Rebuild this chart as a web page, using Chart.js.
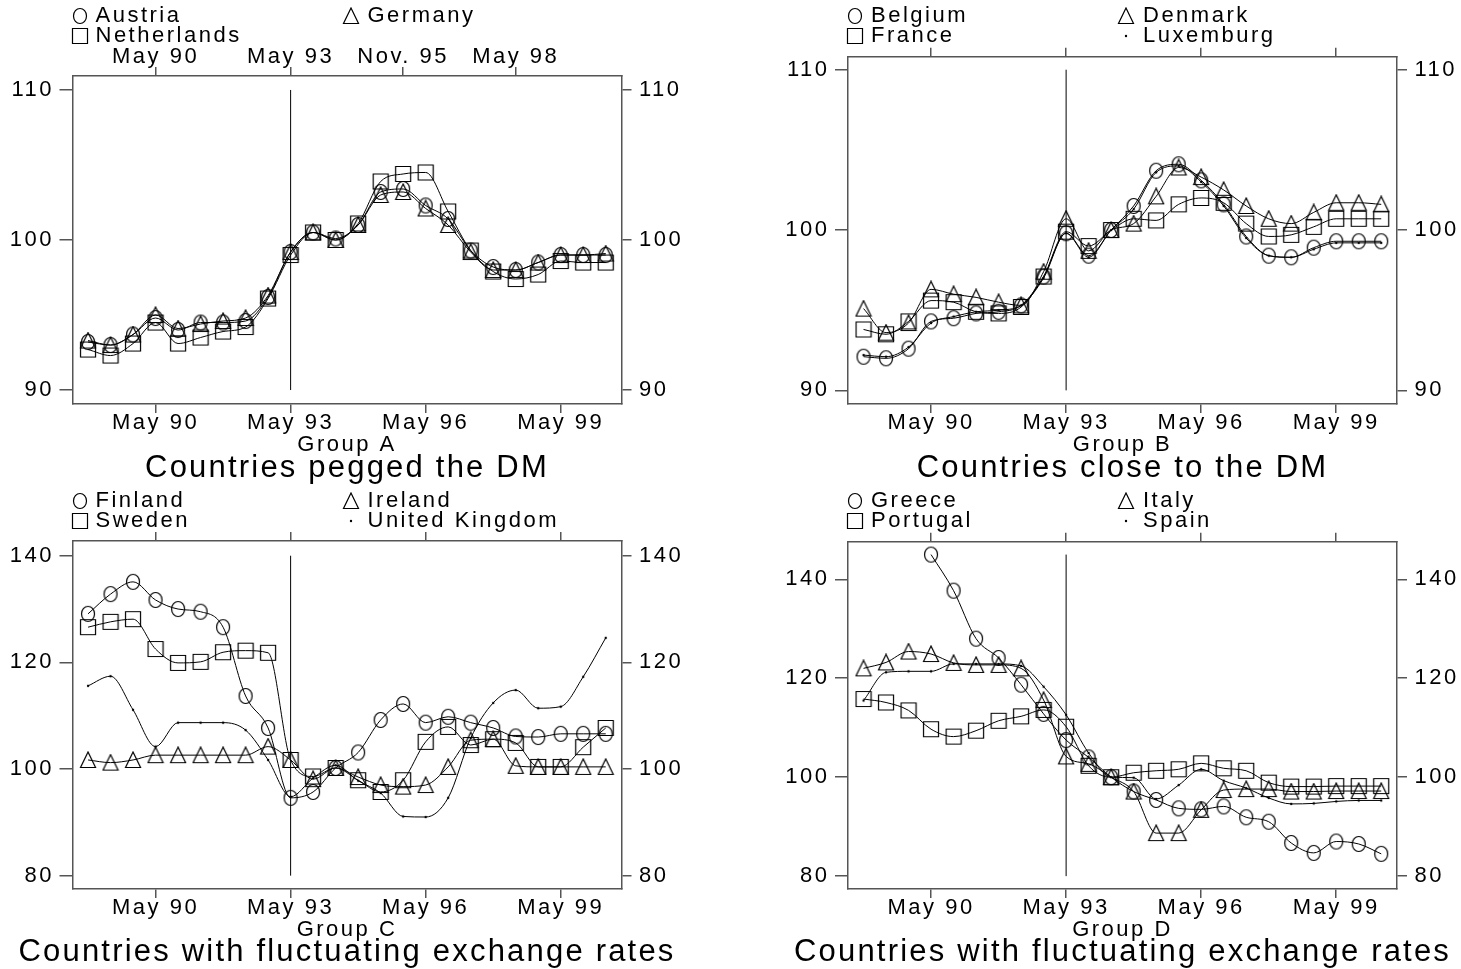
<!DOCTYPE html>
<html>
<head>
<meta charset="utf-8">
<script src="https://cdn.jsdelivr.net/npm/chart.js@4.4.1/dist/chart.umd.min.js"></script>
<style>
  html, body { margin: 0; padding: 0; background: #fff; }
  #wrap { position: relative; width: 1461px; height: 969px; }
  canvas { position: absolute; }
</style>
</head>
<body>
<div id="wrap">
  <canvas id="pA" width="730" height="485" style="left:0;top:0"></canvas>
  <canvas id="pB" width="731" height="485" style="left:730px;top:0"></canvas>
  <canvas id="pC" width="730" height="484" style="left:0;top:485px"></canvas>
  <canvas id="pD" width="731" height="484" style="left:730px;top:485px"></canvas>
</div>
<script>
// ---- periods (half-yearly, Nov 88 .. May 00) and axis labels ----
const periods = ['Nov 88','May 89','Nov 89','May 90','Nov 90','May 91','Nov 91','May 92','Nov 92',
  'May 93','Nov 93','May 94','Nov 94','May 95','Nov 95','May 96','Nov 96','May 97','Nov 97','May 98',
  'Nov 98','May 99','Nov 99','May 00'];
const bottomTickPeriods = ['May 90','May 93','May 96','May 99'];
const bottomTickLabels = ['May 90','May 93','May 96','May 99'];
const topTickPeriodsA = ['May 90','May 93','Nov 95','May 98'];
const topTickLabelsA = ['May 90','May 93','Nov. 95','May 98'];
const refPeriod = 'May 93';

// ---- Group A ----
const austria     = [93.2, 93.0, 93.7, 94.8, 94.0, 94.5, 94.5, 94.6, 96.2, 99.2, 100.5, 100.1, 101.0, 103.2, 103.4, 102.3, 101.4, 99.3, 98.2, 98.0, 98.5, 99.0, 99.0, 99.0];
const germany     = [93.3, 93.0, 93.7, 95.0, 94.1, 94.4, 94.6, 94.8, 96.3, 99.2, 100.5, 100.0, 101.0, 103.0, 103.2, 102.1, 101.0, 99.2, 98.0, 98.0, 98.5, 99.0, 99.0, 99.1];
const netherlands = [92.7, 92.3, 93.1, 94.5, 93.1, 93.5, 93.9, 94.2, 96.1, 99.0, 100.5, 100.0, 101.1, 103.9, 104.4, 104.5, 101.9, 99.3, 97.9, 97.4, 97.7, 98.6, 98.5, 98.5];
const yTicksA = [90, 100, 110];
const refYA = [90, 110];

// ---- Group B ----
const belgium   = [92.1, 92.0, 92.6, 94.3, 94.5, 94.8, 94.9, 95.3, 97.1, 99.8, 98.4, 100.0, 101.5, 103.7, 104.1, 103.1, 101.6, 99.6, 98.4, 98.3, 98.9, 99.3, 99.3, 99.3];
const denmark   = [95.1, 93.6, 94.2, 96.3, 96.0, 95.8, 95.5, 95.3, 97.4, 100.7, 98.7, 100.0, 100.4, 102.1, 103.9, 103.3, 102.5, 101.5, 100.7, 100.4, 101.1, 101.7, 101.7, 101.6];
const france    = [93.8, 93.5, 94.3, 95.6, 95.5, 94.9, 94.8, 95.2, 97.1, 99.9, 99.0, 100.0, 100.7, 100.6, 101.6, 102.0, 101.7, 100.4, 99.6, 99.7, 100.2, 100.7, 100.7, 100.7];
const luxemburg = [92.2, 92.1, 92.7, 94.2, 94.6, 94.9, 95.0, 95.3, 97.0, 99.8, 98.3, 100.0, 101.3, 103.6, 104.0, 103.0, 101.5, 99.5, 98.4, 98.3, 98.8, 99.2, 99.2, 99.2];
const yTicksB = [90, 100, 110];
const refYB = [90, 110];

// ---- Group C ----
const finland = [129.1, 132.8, 135.1, 131.7, 130.0, 129.5, 126.6, 113.7, 107.7, 94.6, 95.7, 100.2, 103.1, 109.2, 112.2, 108.7, 109.8, 108.7, 107.7, 106.1, 106.0, 106.6, 106.6, 106.6];
const ireland = [101.7, 101.2, 101.7, 102.6, 102.6, 102.6, 102.6, 102.6, 104.2, 101.7, 98.1, 100.2, 98.5, 97.0, 96.7, 97.0, 100.4, 105.4, 105.6, 100.6, 100.4, 100.4, 100.4, 100.4];
const sweden  = [126.6, 127.6, 128.1, 122.5, 119.9, 120.1, 121.9, 122.2, 121.8, 101.7, 98.6, 100.2, 97.9, 95.7, 97.9, 105.1, 107.9, 104.5, 105.6, 104.9, 100.4, 100.4, 104.1, 107.7];
const uk      = [115.6, 117.4, 111.1, 104.2, 108.7, 108.7, 108.7, 107.3, 101.7, 94.8, 98.3, 100.7, 97.8, 95.5, 91.1, 91.0, 94.6, 105.8, 112.4, 114.8, 111.4, 111.7, 117.3, 124.6];
const yTicksC = [80, 100, 120, 140];
const refYC = [80, 140];

// ---- Group D ----
const greece   = [null, null, null, 145.0, 137.7, 128.0, 124.1, 118.7, 112.8, 107.5, 104.0, 100.0, 97.1, 95.4, 93.7, 93.5, 94.1, 91.9, 91.0, 86.7, 84.7, 87.0, 86.5, 84.5];
const italy    = [122.0, 123.2, 125.4, 124.9, 123.1, 122.7, 122.7, 122.0, 115.6, 104.2, 102.7, 100.0, 97.1, 88.7, 88.7, 93.4, 97.4, 97.6, 97.6, 97.1, 97.1, 97.2, 97.2, 97.2];
const portugal = [115.8, 115.1, 113.5, 109.7, 108.2, 109.4, 111.4, 112.3, 113.6, 110.2, 102.3, 100.0, 100.9, 101.3, 101.6, 102.8, 101.8, 101.3, 98.9, 98.1, 98.1, 98.2, 98.2, 98.2];
const spain    = [115.5, 121.2, 121.4, 121.4, 122.9, 122.9, 122.9, 122.5, 118.3, 112.6, 104.9, 100.0, 99.9, 95.6, 98.4, 101.6, 99.3, 97.8, 95.8, 94.6, 94.7, 95.1, 95.3, 95.3];
const yTicksD = [80, 100, 120, 140];
const refYD = [80, 145];

// ---- look ----
const FONT = '"Liberation Sans", Arial, Helvetica, sans-serif';
const INK = '#000';
const FRAME = '#555';
const SPACING = '2.5px';
const X_MIN = -0.69, X_MAX = 23.7;
const idx = p => periods.indexOf(p);

function markerImage(kind) {
  const c = document.createElement('canvas');
  c.width = 18; c.height = 18;
  const g = c.getContext('2d');
  g.strokeStyle = INK; g.fillStyle = INK; g.lineWidth = 1.2;
  g.beginPath();
  if (kind === 'circle') { g.ellipse(9, 9, 6.5, 7.5, 0, 0, 2 * Math.PI); g.stroke(); }
  else if (kind === 'triangle') { g.moveTo(9, 1); g.lineTo(16.5, 16.5); g.lineTo(1.5, 16.5); g.closePath(); g.stroke(); }
  else if (kind === 'square') { g.rect(1.5, 1.5, 15, 15); g.stroke(); }
  else { g.arc(9, 9, 1.2, 0, 2 * Math.PI); g.fill(); }
  return c;
}
const MARKERS = { circle: markerImage('circle'), triangle: markerImage('triangle'), square: markerImage('square'), dot: markerImage('dot') };

// legend + panel title, drawn in the canvas
const panelText = {
  id: 'panelText',
  beforeDraw(chart) { chart.ctx.letterSpacing = SPACING; },
  afterDraw(chart, args, opts) {
    const { ctx, chartArea } = chart;
    ctx.save();
    ctx.letterSpacing = SPACING;
    ctx.fillStyle = '#000';
    ctx.textBaseline = 'middle';
    ctx.font = '22px ' + FONT;
    const items = chart.data.datasets.filter(d => d.marker);
    items.forEach((d, k) => {
      const col = k % 2, row = Math.floor(k / 2);
      const y = opts.legendY[row];
      const mx = chartArea.left + (col ? 278 : 7);
      ctx.drawImage(MARKERS[d.marker], Math.round(mx - 9), Math.round(y - 9));
      ctx.textAlign = 'left';
      ctx.fillText(d.label, chartArea.left + (col ? 295 : 23), y);
    });
    ctx.letterSpacing = '2.2px';
    ctx.font = '31px ' + FONT;
    ctx.textAlign = 'center';
    ctx.fillText(opts.title, (chartArea.left + chartArea.right) / 2, chart.height - 17);
    ctx.restore();
  }
};

function buildPanel(id, cfg) {
  const el = document.getElementById(id);
  const W = el.width, H = el.height, b = cfg.box;
  const tickFont = { family: FONT, size: 22, lineHeight: 0.92 };
  const datasets = cfg.series.map(s => ({
    label: s.label,
    marker: s.marker,
    data: s.values.map((v, i) => ({ x: i, y: v })),
    borderColor: INK,
    borderWidth: 1,
    pointStyle: MARKERS[s.marker],
    pointRadius: 8,
    cubicInterpolationMode: 'monotone'
  }));
  datasets.push({
    label: 'ref',
    data: [idx(refPeriod), idx(refPeriod)].map((x, i) => ({ x, y: cfg.refY[i] })),
    borderColor: INK, borderWidth: 1, pointRadius: 0
  });

  const frame = (tl) => ({
    grid: { drawOnChartArea: false, drawTicks: true, tickLength: tl, color: FRAME, lineWidth: 1.5 },
    border: { display: true, color: FRAME, width: 1.5 }
  });
  const xTicks = (periodList, labels, pad) => ({
    afterBuildTicks: s => { s.ticks = periodList.map(p => ({ value: idx(p) })); },
    ticks: { callback: (v, i) => labels ? labels[i] : '', font: tickFont, color: '#000', padding: pad, maxRotation: 0, autoSkip: false }
  });
  const yTicks = (pad) => ({
    afterBuildTicks: s => { s.ticks = cfg.yTicks.map(v => ({ value: v })); },
    ticks: { font: tickFont, color: '#000', padding: pad }
  });

  new Chart(el, {
    type: 'line',
    data: { datasets },
    plugins: [panelText],
    options: {
      responsive: false, animation: false, events: [],
      layout: { padding: 0, autoPadding: false },
      plugins: {
        legend: { display: false }, tooltip: { enabled: false },
        panelText: { title: cfg.title, legendY: [16, 35.5] }
      },
      scales: {
        x: {
          type: 'linear', position: 'bottom', min: X_MIN, max: X_MAX,
          ...frame(9), ...xTicks(bottomTickPeriods, bottomTickLabels, 0),
          title: { display: true, text: cfg.group, color: '#000', font: { family: FONT, size: 22, lineHeight: 1.2 }, padding: { top: 0, bottom: H - 457.7 } },
          afterFit: s => { s.height = H - b.bottom; }
        },
        x2: {
          type: 'linear', position: 'top', min: X_MIN, max: X_MAX,
          ...frame(9), ...xTicks(cfg.topPeriods, cfg.topLabels, 0),
          afterFit: s => { s.height = b.top; }
        },
        y: {
          type: 'linear', position: 'left', min: cfg.yMin, max: cfg.yMax,
          ...frame(13), ...yTicks(5.5),
          afterFit: s => { s.width = b.left; }
        },
        y2: {
          type: 'linear', position: 'right', min: cfg.yMin, max: cfg.yMax,
          ...frame(10), ...yTicks(7.5),
          afterFit: s => { s.width = W - b.right; }
        }
      }
    }
  });
}

buildPanel('pA', {
  box: { left: 72.5, right: 621.5, top: 76, bottom: 404 }, yMin: 89.07, yMax: 110.93,
  yTicks: yTicksA, refY: refYA, topPeriods: topTickPeriodsA, topLabels: topTickLabelsA,
  group: 'Group A', title: 'Countries pegged the DM',
  series: [
    { label: 'Austria', values: austria, marker: 'circle' },
    { label: 'Germany', values: germany, marker: 'triangle' },
    { label: 'Netherlands', values: netherlands, marker: 'square' }
  ]
});
buildPanel('pB', {
  box: { left: 118, right: 667, top: 56.7, bottom: 404 }, yMin: 89.15, yMax: 110.81,
  yTicks: yTicksB, refY: refYB, topPeriods: bottomTickPeriods, topLabels: null,
  group: 'Group B', title: 'Countries close to the DM',
  series: [
    { label: 'Belgium', values: belgium, marker: 'circle' },
    { label: 'Denmark', values: denmark, marker: 'triangle' },
    { label: 'France', values: france, marker: 'square' },
    { label: 'Luxemburg', values: luxemburg, marker: 'dot' }
  ]
});
buildPanel('pC', {
  box: { left: 72.5, right: 621.5, top: 56, bottom: 404 }, yMin: 77.5, yMax: 142.76,
  yTicks: yTicksC, refY: refYC, topPeriods: bottomTickPeriods, topLabels: null,
  group: 'Group C', title: 'Countries with fluctuating exchange rates',
  series: [
    { label: 'Finland', values: finland, marker: 'circle' },
    { label: 'Ireland', values: ireland, marker: 'triangle' },
    { label: 'Sweden', values: sweden, marker: 'square' },
    { label: 'United Kingdom', values: uk, marker: 'dot' }
  ]
});
buildPanel('pD', {
  box: { left: 118, right: 667, top: 56.7, bottom: 404 }, yMin: 77.4, yMax: 147.6,
  yTicks: yTicksD, refY: refYD, topPeriods: bottomTickPeriods, topLabels: null,
  group: 'Group D', title: 'Countries with fluctuating exchange rates',
  series: [
    { label: 'Greece', values: greece, marker: 'circle' },
    { label: 'Italy', values: italy, marker: 'triangle' },
    { label: 'Portugal', values: portugal, marker: 'square' },
    { label: 'Spain', values: spain, marker: 'dot' }
  ]
});
</script>
</body>
</html>
